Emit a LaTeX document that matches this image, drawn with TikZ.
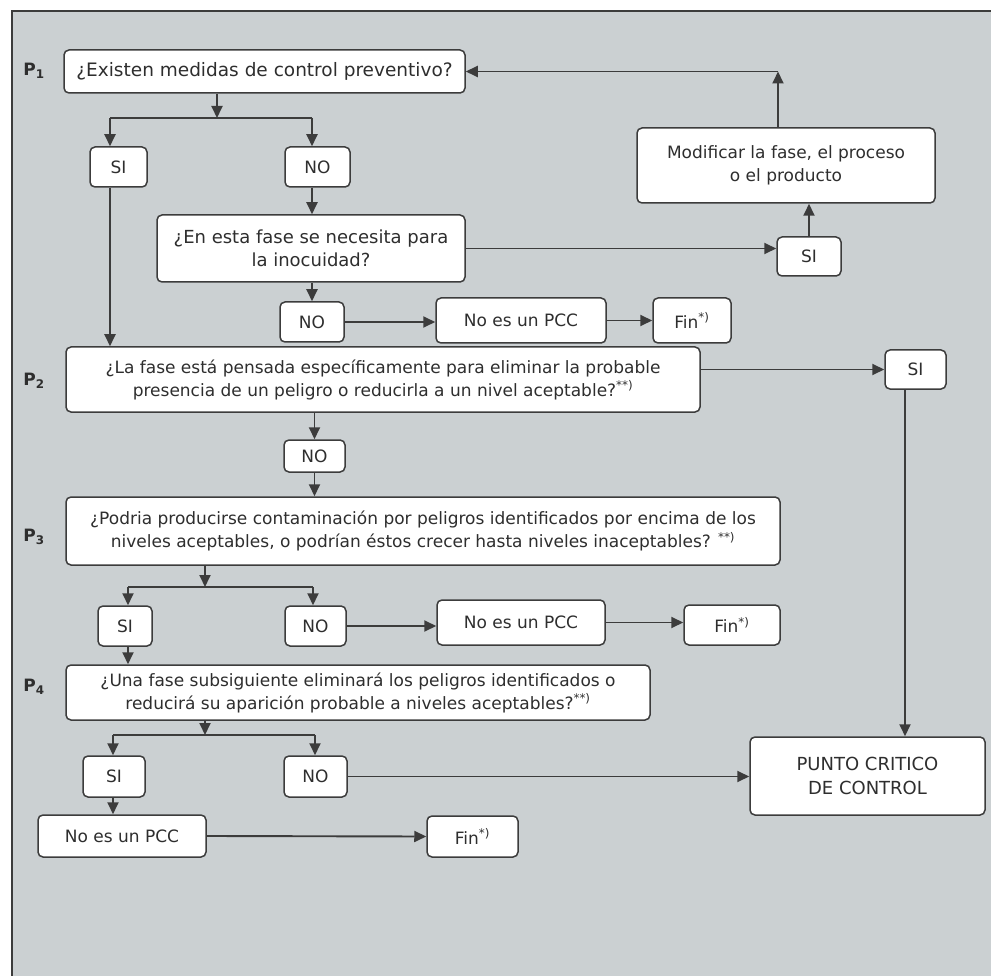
\documentclass[tikz,border=0pt]{standalone}
\usepackage{fontspec}
\setmainfont{DejaVu Sans}
\usepackage{xcolor}
\usetikzlibrary{arrows.meta,positioning,calc}
\definecolor{ink}{HTML}{2E2E2E}
\definecolor{edge}{HTML}{3C3C3C}
\definecolor{paper}{HTML}{CBD0D2}
\tikzset{
  box/.style={
    rounded corners=5pt,draw=edge,fill=white,
    line width=1.5pt,inner sep=0pt,align=center,text=ink,
    font=\fontsize{17}{23}\selectfont
  },
  qbox/.style={box},
  ansbox/.style={box},
  endbox/.style={box},
  plabel/.style={text=ink,font=\bfseries\fontsize{17}{20}\selectfont},
  arrow/.style={-{Triangle[length=12pt,width=11pt]},draw=edge,line width=1.9pt},
  line/.style={draw=edge,line width=1.9pt}
}
\begin{document}
\begin{tikzpicture}[x=1pt,y=-1pt]
% frame
\useasboundingbox (0,0) rectangle (991,976);
\fill[paper] (12,11) rectangle (991,976);
\draw[edge,line width=2pt] (12,976) -- (12,11) -- (991,11);

% step labels
\node[plabel] (p1) at (34,71) {P\textsubscript{1}};
\node[plabel] (p2) at (34,381) {P\textsubscript{2}};
\node[plabel] (p3) at (34,537) {P\textsubscript{3}};
\node[plabel] (p4) at (34,687) {P\textsubscript{4}};

% P1
\node[qbox,minimum width=401pt,minimum height=43pt,font=\fontsize{18.5}{23}\selectfont] (q1) at (264.5,71.5) {¿Existen medidas de control preventivo?};
\node[ansbox,minimum width=57pt,minimum height=40pt] (si1) at (118.5,167) {SI};
\node[ansbox,minimum width=65pt,minimum height=40pt] (no1) at (317.5,167) {NO};
\node[qbox,minimum width=308pt,minimum height=67pt,font=\fontsize{18}{23}\selectfont] (q2) at (311,248.5) {¿En esta fase se necesita para\\la inocuidad?};
\node[ansbox,minimum width=64pt,minimum height=39pt] (si2) at (809,256.5) {SI};
\node[box,minimum width=298pt,minimum height=75pt] (mod) at (786,165.5) {Modificar la fase, el proceso\\o el producto};
\node[ansbox,minimum width=64pt,minimum height=40pt] (no2) at (312,322) {NO};
\node[endbox,minimum width=170pt,minimum height=45pt] (nopcc1) at (521,320.5) {No es un PCC};
\node[endbox,minimum width=78pt,minimum height=45pt] (fin1) at (692,320.5) {Fin\textsuperscript{*)}};

% P2
\node[qbox,minimum width=634pt,minimum height=65pt] (q3) at (383,379.5) {¿La fase está pensada específicamente para eliminar la probable\\presencia de un peligro o reducirla a un nivel aceptable?\textsuperscript{**)}};
\node[ansbox,minimum width=61pt,minimum height=39pt] (si3) at (915.5,369.5) {SI};
\node[ansbox,minimum width=61pt,minimum height=32pt] (no3) at (314.5,456) {NO};

% P3
\node[qbox,minimum width=714pt,minimum height=68pt] (q4) at (423,531) {¿Podria producirse contaminación por peligros identificados por encima de los\\niveles aceptables, o podrían éstos crecer hasta niveles inaceptables? \textsuperscript{**)}};
\node[ansbox,minimum width=54pt,minimum height=40pt] (si4) at (125,626) {SI};
\node[ansbox,minimum width=61pt,minimum height=40pt] (no4) at (315.5,626) {NO};
\node[endbox,minimum width=168pt,minimum height=45pt] (nopcc2) at (521,622.5) {No es un PCC};
\node[endbox,minimum width=96pt,minimum height=40pt] (fin2) at (732,625) {Fin\textsuperscript{*)}};

% P4
\node[qbox,minimum width=584pt,minimum height=55pt] (q5) at (358,692.5) {¿Una fase subsiguiente eliminará los peligros identificados o\\reducirá su aparición probable a niveles aceptables?\textsuperscript{**)}};
\node[ansbox,minimum width=62pt,minimum height=41pt] (si5) at (114,776.5) {SI};
\node[ansbox,minimum width=63pt,minimum height=41pt] (no5) at (315.5,776.5) {NO};
\node[box,minimum width=235pt,minimum height=78pt,font=\fontsize{18}{24}\selectfont] (pcc) at (867.5,776) {PUNTO CRITICO\\DE CONTROL};
\node[endbox,minimum width=168pt,minimum height=42pt] (nopcc3) at (122,836) {No es un PCC};
\node[endbox,minimum width=91pt,minimum height=41pt] (fin3) at (472.5,836.5) {Fin\textsuperscript{*)}};

% splits
\coordinate (s1) at (217,118);
\coordinate (s1l) at (110,118);
\coordinate (s1r) at (312,118);
\coordinate (c1) at (778,71.5);
\coordinate (s2) at (205,587);
\coordinate (s2l) at (128,587);
\coordinate (s2r) at (313,587);
\coordinate (s3) at (205,735);
\coordinate (s3l) at (113,735);
\coordinate (s3r) at (315,735);

% P1 connectors
\draw[arrow] (q1.south -| s1) -- (s1);
\draw[line] (s1l) -- (s1r);
\draw[arrow] (s1l) -- (s1l |- si1.north);
\draw[arrow] (s1r) -- (s1r |- no1.north);
\draw[arrow] (si1.south -| s1l) -- (s1l |- q3.north);
\draw[arrow] (no1.south -| s1r) -- (s1r |- q2.north);
\draw[arrow] (q2.east) -- (q2.east -| si2.west);
\draw[arrow] (si2.north) -- (si2.north |- mod.south);
\draw[arrow] (mod.north -| c1) -- (c1);
\draw[arrow] (c1) -- (q1.east);
\draw[arrow] (q2.south -| no2) -- (no2.north);
\draw[arrow] (no2.east) -- (no2.east -| nopcc1.west);
\draw[arrow] (nopcc1.east) -- (fin1.west);

% P2 connectors
\draw[arrow] (q3.east |- si3) -- (si3.west);
\draw[arrow] ([xshift=-10.5pt]si3.south) -- ([xshift=-10.5pt]si3.south |- pcc.north);
\draw[arrow] (q3.south -| no3) -- (no3.north);
\draw[arrow] (no3.south) -- (no3.south |- q4.north);

% P3 connectors
\draw[arrow] (q4.south -| s2) -- (s2);
\draw[line] (s2l) -- (s2r);
\draw[arrow] (s2l) -- (s2l |- si4.north);
\draw[arrow] (s2r) -- (s2r |- no4.north);
\draw[arrow] (no4.east) -- (no4.east -| nopcc2.west);
\draw[arrow] (nopcc2.east) -- (nopcc2.east -| fin2.west);
\draw[arrow] (si4.south -| s2l) -- (s2l |- q5.north);

% P4 connectors
\draw[arrow] (q5.south -| s3) -- (s3);
\draw[line] (s3l) -- (s3r);
\draw[arrow] (s3l) -- (s3l |- si5.north);
\draw[arrow] (s3r) -- (s3r |- no5.north);
\draw[arrow] (no5.east) -- (no5.east -| pcc.west);
\draw[arrow] (si5.south -| s3l) -- (s3l |- nopcc3.north);
\draw[arrow] (nopcc3.east) -- (fin3.west);
\end{tikzpicture}
\end{document}
